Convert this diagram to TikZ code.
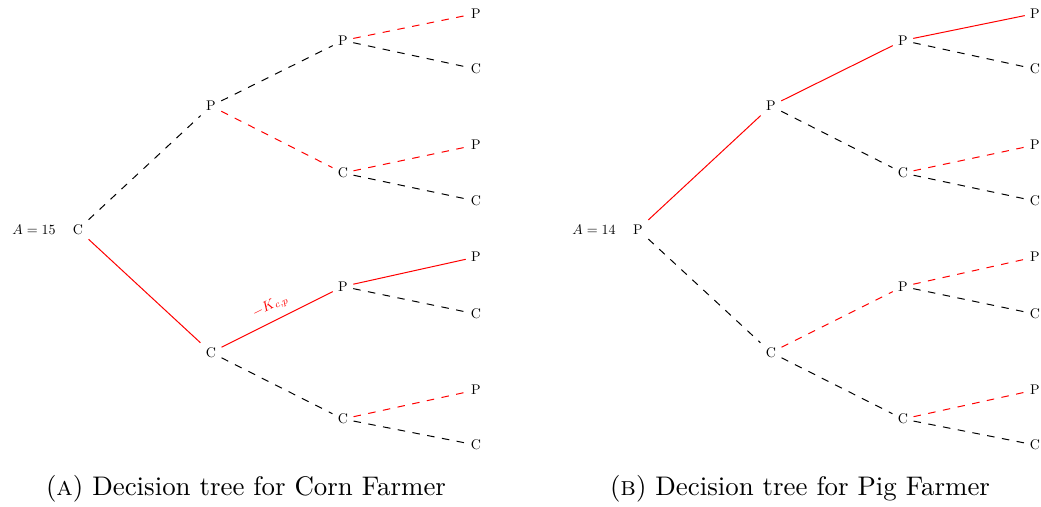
\documentclass[tikz,border=0pt]{standalone}
\usepackage{graphicx}
\newcommand{\sm}[1]{\scalebox{0.56}{#1}}
\begin{document}
\begin{tikzpicture}[x=0.4pt,y=-0.4pt,
  lbl/.style={font=\fontsize{10}{12}\selectfont, inner sep=2pt},
  rs/.style={red},
  rd/.style={red,dashed},
  bd/.style={black,dashed},
  captext/.style={font=\fontsize{10.75}{12.9}\selectfont, inner sep=0pt}]
\useasboundingbox (0,0) rectangle (1041,507);
% ---------- Left tree (Corn Farmer) ----------
\node[lbl] (LA) at (34,230) {\sm{$A=15$}};
\node[lbl] (Lr) at (78,229.5) {\sm{C}};
\node[lbl] (L1) at (211,106) {\sm{P}};
\node[lbl] (L2) at (211,352.5) {\sm{C}};
\node[lbl] (L11) at (343,40.5) {\sm{P}};
\node[lbl] (L12) at (343,173) {\sm{C}};
\node[lbl] (L21) at (343,286.5) {\sm{P}};
\node[lbl] (L22) at (343,419) {\sm{C}};
\node[lbl] (L111) at (476,13.5) {\sm{P}};
\node[lbl] (L112) at (476,69) {\sm{C}};
\node[lbl] (L121) at (476,145) {\sm{P}};
\node[lbl] (L122) at (476,201) {\sm{C}};
\node[lbl] (L211) at (476,257) {\sm{P}};
\node[lbl] (L212) at (476,314) {\sm{C}};
\node[lbl] (L221) at (476,390) {\sm{P}};
\node[lbl] (L222) at (476,445) {\sm{C}};
\draw[bd] (Lr) -- (L1);
\draw[rs] (Lr) -- (L2);
\draw[bd] (L1) -- (L11);
\draw[rd] (L1) -- (L12);
\draw[rs] (L2) -- node[lbl, above, sloped, pos=0.5, text=red, inner sep=3pt] {\sm{$-K_{c,p}$}} (L21);
\draw[bd] (L2) -- (L22);
\draw[rd] (L11) -- (L111);
\draw[bd] (L11) -- (L112);
\draw[rd] (L12) -- (L121);
\draw[bd] (L12) -- (L122);
\draw[rs] (L21) -- (L211);
\draw[bd] (L21) -- (L212);
\draw[rd] (L22) -- (L221);
\draw[bd] (L22) -- (L222);
\node[captext] (capA) at (246,489) {(\textsc{a}) Decision tree for Corn Farmer};
% ---------- Right tree (Pig Farmer) ----------
\node[lbl] (RA) at (594,230) {\sm{$A=14$}};
\node[lbl] (Rr) at (638,229.5) {\sm{P}};
\node[lbl] (R1) at (771,106) {\sm{P}};
\node[lbl] (R2) at (771,352.5) {\sm{C}};
\node[lbl] (R11) at (903,40.5) {\sm{P}};
\node[lbl] (R12) at (903,173) {\sm{C}};
\node[lbl] (R21) at (903,286.5) {\sm{P}};
\node[lbl] (R22) at (903,419) {\sm{C}};
\node[lbl] (R111) at (1035,13.5) {\sm{P}};
\node[lbl] (R112) at (1035,69) {\sm{C}};
\node[lbl] (R121) at (1035,145) {\sm{P}};
\node[lbl] (R122) at (1035,201) {\sm{C}};
\node[lbl] (R211) at (1035,257) {\sm{P}};
\node[lbl] (R212) at (1035,314) {\sm{C}};
\node[lbl] (R221) at (1035,390) {\sm{P}};
\node[lbl] (R222) at (1035,445) {\sm{C}};
\draw[rs] (Rr) -- (R1);
\draw[bd] (Rr) -- (R2);
\draw[rs] (R1) -- (R11);
\draw[bd] (R1) -- (R12);
\draw[rd] (R2) -- (R21);
\draw[bd] (R2) -- (R22);
\draw[rs] (R11) -- (R111);
\draw[bd] (R11) -- (R112);
\draw[rd] (R12) -- (R121);
\draw[bd] (R12) -- (R122);
\draw[rd] (R21) -- (R211);
\draw[bd] (R21) -- (R212);
\draw[rd] (R22) -- (R221);
\draw[bd] (R22) -- (R222);
\node[captext] (capB) at (800,489) {(\textsc{b}) Decision tree for Pig Farmer};
\end{tikzpicture}
\end{document}
